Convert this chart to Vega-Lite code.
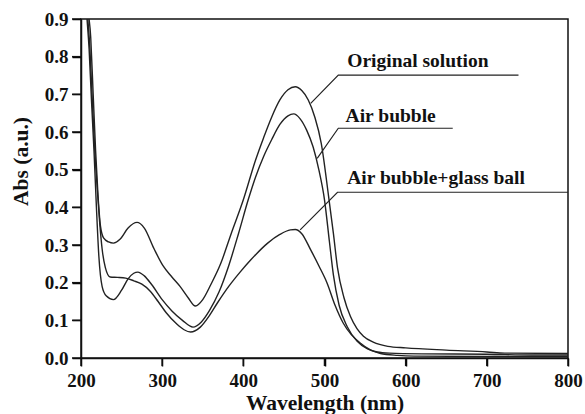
{
  "$schema": "https://vega.github.io/schema/vega-lite/v6.json",
  "width": 487,
  "height": 339,
  "autosize": {"type": "none"},
  "padding": {"left": 81, "top": 19, "right": 17, "bottom": 56},
  "background": "white",
  "config": {
    "view": {"stroke": "#111", "strokeWidth": 1.5}
  },
  "datasets": {
    "spectra": [
      {"series": "Original solution", "wl": 206, "abs": 1.05},
      {"series": "Original solution", "wl": 208, "abs": 0.95},
      {"series": "Original solution", "wl": 212, "abs": 0.85},
      {"series": "Original solution", "wl": 215, "abs": 0.7},
      {"series": "Original solution", "wl": 218, "abs": 0.55},
      {"series": "Original solution", "wl": 221, "abs": 0.43},
      {"series": "Original solution", "wl": 224, "abs": 0.35},
      {"series": "Original solution", "wl": 228, "abs": 0.318},
      {"series": "Original solution", "wl": 234, "abs": 0.308},
      {"series": "Original solution", "wl": 240, "abs": 0.305},
      {"series": "Original solution", "wl": 248, "abs": 0.315},
      {"series": "Original solution", "wl": 258, "abs": 0.345},
      {"series": "Original solution", "wl": 269, "abs": 0.36},
      {"series": "Original solution", "wl": 278, "abs": 0.345},
      {"series": "Original solution", "wl": 290, "abs": 0.29},
      {"series": "Original solution", "wl": 301, "abs": 0.245},
      {"series": "Original solution", "wl": 312, "abs": 0.215},
      {"series": "Original solution", "wl": 322, "abs": 0.19},
      {"series": "Original solution", "wl": 332, "abs": 0.16},
      {"series": "Original solution", "wl": 341, "abs": 0.138},
      {"series": "Original solution", "wl": 350, "abs": 0.155},
      {"series": "Original solution", "wl": 360, "abs": 0.195},
      {"series": "Original solution", "wl": 372, "abs": 0.25},
      {"series": "Original solution", "wl": 385, "abs": 0.33},
      {"series": "Original solution", "wl": 400, "abs": 0.42},
      {"series": "Original solution", "wl": 415, "abs": 0.525},
      {"series": "Original solution", "wl": 425, "abs": 0.585},
      {"series": "Original solution", "wl": 435, "abs": 0.64},
      {"series": "Original solution", "wl": 445, "abs": 0.685},
      {"series": "Original solution", "wl": 455, "abs": 0.712},
      {"series": "Original solution", "wl": 464, "abs": 0.72},
      {"series": "Original solution", "wl": 472, "abs": 0.71},
      {"series": "Original solution", "wl": 480, "abs": 0.685},
      {"series": "Original solution", "wl": 488, "abs": 0.64},
      {"series": "Original solution", "wl": 496, "abs": 0.57},
      {"series": "Original solution", "wl": 505, "abs": 0.43},
      {"series": "Original solution", "wl": 511, "abs": 0.33},
      {"series": "Original solution", "wl": 516, "abs": 0.24},
      {"series": "Original solution", "wl": 524, "abs": 0.16},
      {"series": "Original solution", "wl": 532, "abs": 0.11},
      {"series": "Original solution", "wl": 540, "abs": 0.078},
      {"series": "Original solution", "wl": 548, "abs": 0.058},
      {"series": "Original solution", "wl": 560, "abs": 0.042},
      {"series": "Original solution", "wl": 578, "abs": 0.031},
      {"series": "Original solution", "wl": 600, "abs": 0.027},
      {"series": "Original solution", "wl": 650, "abs": 0.021},
      {"series": "Original solution", "wl": 700, "abs": 0.016},
      {"series": "Original solution", "wl": 722, "abs": 0.013},
      {"series": "Original solution", "wl": 800, "abs": 0.012},

      {"series": "Air bubble", "wl": 204, "abs": 1.05},
      {"series": "Air bubble", "wl": 206, "abs": 0.95},
      {"series": "Air bubble", "wl": 210, "abs": 0.82},
      {"series": "Air bubble", "wl": 213, "abs": 0.68},
      {"series": "Air bubble", "wl": 216, "abs": 0.55},
      {"series": "Air bubble", "wl": 219, "abs": 0.4},
      {"series": "Air bubble", "wl": 222, "abs": 0.27},
      {"series": "Air bubble", "wl": 226, "abs": 0.19},
      {"series": "Air bubble", "wl": 231, "abs": 0.165},
      {"series": "Air bubble", "wl": 240, "abs": 0.155},
      {"series": "Air bubble", "wl": 250, "abs": 0.18},
      {"series": "Air bubble", "wl": 258, "abs": 0.21},
      {"series": "Air bubble", "wl": 265, "abs": 0.225},
      {"series": "Air bubble", "wl": 270, "abs": 0.228},
      {"series": "Air bubble", "wl": 278, "abs": 0.218},
      {"series": "Air bubble", "wl": 287, "abs": 0.195},
      {"series": "Air bubble", "wl": 300, "abs": 0.155},
      {"series": "Air bubble", "wl": 312, "abs": 0.125},
      {"series": "Air bubble", "wl": 325, "abs": 0.1},
      {"series": "Air bubble", "wl": 338, "abs": 0.082},
      {"series": "Air bubble", "wl": 348, "abs": 0.095},
      {"series": "Air bubble", "wl": 358, "abs": 0.125},
      {"series": "Air bubble", "wl": 370, "abs": 0.175},
      {"series": "Air bubble", "wl": 382, "abs": 0.245},
      {"series": "Air bubble", "wl": 394, "abs": 0.33},
      {"series": "Air bubble", "wl": 406, "abs": 0.42},
      {"series": "Air bubble", "wl": 415, "abs": 0.48},
      {"series": "Air bubble", "wl": 425, "abs": 0.535},
      {"series": "Air bubble", "wl": 435, "abs": 0.58},
      {"series": "Air bubble", "wl": 445, "abs": 0.62},
      {"series": "Air bubble", "wl": 455, "abs": 0.643},
      {"series": "Air bubble", "wl": 462, "abs": 0.648},
      {"series": "Air bubble", "wl": 470, "abs": 0.635},
      {"series": "Air bubble", "wl": 478, "abs": 0.605},
      {"series": "Air bubble", "wl": 486, "abs": 0.56},
      {"series": "Air bubble", "wl": 493, "abs": 0.5},
      {"series": "Air bubble", "wl": 500, "abs": 0.42},
      {"series": "Air bubble", "wl": 506, "abs": 0.31},
      {"series": "Air bubble", "wl": 511, "abs": 0.22},
      {"series": "Air bubble", "wl": 518, "abs": 0.14},
      {"series": "Air bubble", "wl": 528, "abs": 0.083},
      {"series": "Air bubble", "wl": 540, "abs": 0.045},
      {"series": "Air bubble", "wl": 553, "abs": 0.024},
      {"series": "Air bubble", "wl": 565, "abs": 0.016},
      {"series": "Air bubble", "wl": 580, "abs": 0.013},
      {"series": "Air bubble", "wl": 620, "abs": 0.011},
      {"series": "Air bubble", "wl": 700, "abs": 0.01},
      {"series": "Air bubble", "wl": 755, "abs": 0.008},
      {"series": "Air bubble", "wl": 800, "abs": 0.008},

      {"series": "Air bubble+glass ball", "wl": 205, "abs": 1.05},
      {"series": "Air bubble+glass ball", "wl": 207, "abs": 0.95},
      {"series": "Air bubble+glass ball", "wl": 211, "abs": 0.82},
      {"series": "Air bubble+glass ball", "wl": 214, "abs": 0.68},
      {"series": "Air bubble+glass ball", "wl": 217, "abs": 0.55},
      {"series": "Air bubble+glass ball", "wl": 220, "abs": 0.45},
      {"series": "Air bubble+glass ball", "wl": 223, "abs": 0.36},
      {"series": "Air bubble+glass ball", "wl": 226, "abs": 0.29},
      {"series": "Air bubble+glass ball", "wl": 230, "abs": 0.24},
      {"series": "Air bubble+glass ball", "wl": 236, "abs": 0.215},
      {"series": "Air bubble+glass ball", "wl": 245, "abs": 0.214},
      {"series": "Air bubble+glass ball", "wl": 255, "abs": 0.212},
      {"series": "Air bubble+glass ball", "wl": 265, "abs": 0.205},
      {"series": "Air bubble+glass ball", "wl": 275, "abs": 0.196},
      {"series": "Air bubble+glass ball", "wl": 285, "abs": 0.178},
      {"series": "Air bubble+glass ball", "wl": 295, "abs": 0.15},
      {"series": "Air bubble+glass ball", "wl": 305, "abs": 0.12},
      {"series": "Air bubble+glass ball", "wl": 318, "abs": 0.09},
      {"series": "Air bubble+glass ball", "wl": 327, "abs": 0.075},
      {"series": "Air bubble+glass ball", "wl": 335, "abs": 0.069},
      {"series": "Air bubble+glass ball", "wl": 347, "abs": 0.082},
      {"series": "Air bubble+glass ball", "wl": 358, "abs": 0.112},
      {"series": "Air bubble+glass ball", "wl": 368, "abs": 0.146},
      {"series": "Air bubble+glass ball", "wl": 382, "abs": 0.19},
      {"series": "Air bubble+glass ball", "wl": 396, "abs": 0.228},
      {"series": "Air bubble+glass ball", "wl": 409, "abs": 0.26},
      {"series": "Air bubble+glass ball", "wl": 430, "abs": 0.305},
      {"series": "Air bubble+glass ball", "wl": 445, "abs": 0.328},
      {"series": "Air bubble+glass ball", "wl": 458, "abs": 0.34},
      {"series": "Air bubble+glass ball", "wl": 464, "abs": 0.341},
      {"series": "Air bubble+glass ball", "wl": 472, "abs": 0.33},
      {"series": "Air bubble+glass ball", "wl": 483, "abs": 0.287},
      {"series": "Air bubble+glass ball", "wl": 493, "abs": 0.245},
      {"series": "Air bubble+glass ball", "wl": 503, "abs": 0.2},
      {"series": "Air bubble+glass ball", "wl": 513, "abs": 0.14},
      {"series": "Air bubble+glass ball", "wl": 523, "abs": 0.093},
      {"series": "Air bubble+glass ball", "wl": 533, "abs": 0.062},
      {"series": "Air bubble+glass ball", "wl": 544, "abs": 0.04},
      {"series": "Air bubble+glass ball", "wl": 556, "abs": 0.022},
      {"series": "Air bubble+glass ball", "wl": 569, "abs": 0.012},
      {"series": "Air bubble+glass ball", "wl": 590, "abs": 0.007},
      {"series": "Air bubble+glass ball", "wl": 610, "abs": 0.005},
      {"series": "Air bubble+glass ball", "wl": 700, "abs": 0.004},
      {"series": "Air bubble+glass ball", "wl": 800, "abs": 0.004}
    ],
    "leaders": [
      {"label": "Original solution", "step": 1, "wl": 483, "abs": 0.676},
      {"label": "Original solution", "step": 2, "wl": 517, "abs": 0.751},
      {"label": "Original solution", "step": 3, "wl": 739, "abs": 0.751},
      {"label": "Air bubble", "step": 1, "wl": 491, "abs": 0.53},
      {"label": "Air bubble", "step": 2, "wl": 517, "abs": 0.61},
      {"label": "Air bubble", "step": 3, "wl": 658, "abs": 0.61},
      {"label": "Air bubble+glass ball", "step": 1, "wl": 470, "abs": 0.34},
      {"label": "Air bubble+glass ball", "step": 2, "wl": 516, "abs": 0.44},
      {"label": "Air bubble+glass ball", "step": 3, "wl": 800, "abs": 0.44}
    ],
    "labels": [
      {"label": "Original solution", "wl": 528, "abs": 0.772},
      {"label": "Air bubble", "wl": 526, "abs": 0.627},
      {"label": "Air bubble+glass ball", "wl": 528, "abs": 0.462}
    ],
    "xticks": [
      {"wl": 200, "abs": 0}, {"wl": 300, "abs": 0}, {"wl": 400, "abs": 0}, {"wl": 500, "abs": 0},
      {"wl": 600, "abs": 0}, {"wl": 700, "abs": 0}, {"wl": 800, "abs": 0}
    ],
    "yticks": [
      {"wl": 200, "abs": 0}, {"wl": 200, "abs": 0.1}, {"wl": 200, "abs": 0.2}, {"wl": 200, "abs": 0.3},
      {"wl": 200, "abs": 0.4}, {"wl": 200, "abs": 0.5}, {"wl": 200, "abs": 0.6}, {"wl": 200, "abs": 0.7},
      {"wl": 200, "abs": 0.8}, {"wl": 200, "abs": 0.9}
    ]
  },
  "encoding": {
    "x": {"field": "wl", "type": "quantitative", "scale": {"domain": [200, 800]},
          "axis": {"values": [200, 300, 400, 500, 600, 700, 800], "grid": false, "ticks": true, "tickSize": 8, "tickColor": "black", "tickOpacity": 1, "tickWidth": 1.5,
                   "domainColor": "#111", "domainWidth": 1.5, "labelFlush": false, "labelOverlap": false,
                   "labelFont": "Liberation Serif", "labelFontWeight": "bold", "labelFontSize": 19, "labelColor": "#111", "labelPadding": 5,
                   "title": "Wavelength (nm)", "titleFont": "Liberation Serif", "titleFontWeight": "bold", "titleFontSize": 21.5, "titleColor": "#111", "titlePadding": 2}},
    "y": {"field": "abs", "type": "quantitative", "scale": {"domain": [0, 0.9]},
          "axis": {"values": [0, 0.1, 0.2, 0.3, 0.4, 0.5, 0.6, 0.7, 0.8, 0.9], "format": ".1f", "grid": false, "ticks": true, "tickSize": 9, "tickColor": "black", "tickOpacity": 1, "tickWidth": 1.5,
                   "domainColor": "#111", "domainWidth": 1.5, "labelFlush": false, "labelOverlap": false,
                   "labelFont": "Liberation Serif", "labelFontWeight": "bold", "labelFontSize": 19, "labelColor": "#111", "labelPadding": 4,
                   "title": "Abs (a.u.)", "titleFont": "Liberation Serif", "titleFontWeight": "bold", "titleFontSize": 21.5, "titleColor": "#111",
                   "titleX": -60, "titleY": 142, "titleAngle": -90, "titleAlign": "center", "titleBaseline": "middle"}}
  },
  "layer": [
    {
      "data": {"name": "spectra"},
      "mark": {"type": "line", "clip": true, "color": "#222", "strokeWidth": 1.4, "interpolate": "monotone"},
      "encoding": {
        "detail": {"field": "series"}
      }
    },
    {
      "data": {"name": "leaders"},
      "mark": {"type": "line", "clip": true, "color": "#222", "strokeWidth": 1.2},
      "encoding": {
        "detail": {"field": "label"},
        "order": {"field": "step"}
      }
    },
    {
      "data": {"name": "xticks"},
      "mark": {"type": "tick", "orient": "vertical", "size": 8, "thickness": 1.5, "yOffset": 4, "color": "#111", "opacity": 1}
    },
    {
      "data": {"name": "yticks"},
      "mark": {"type": "tick", "orient": "horizontal", "size": 9, "thickness": 1.5, "xOffset": -4.5, "color": "#111", "opacity": 1}
    },
    {
      "data": {"name": "labels"},
      "mark": {"type": "text", "align": "left", "baseline": "alphabetic", "font": "Liberation Serif", "fontWeight": "bold", "fontSize": 19.5, "color": "#111"},
      "encoding": {
        "text": {"field": "label"}
      }
    }
  ]
}
